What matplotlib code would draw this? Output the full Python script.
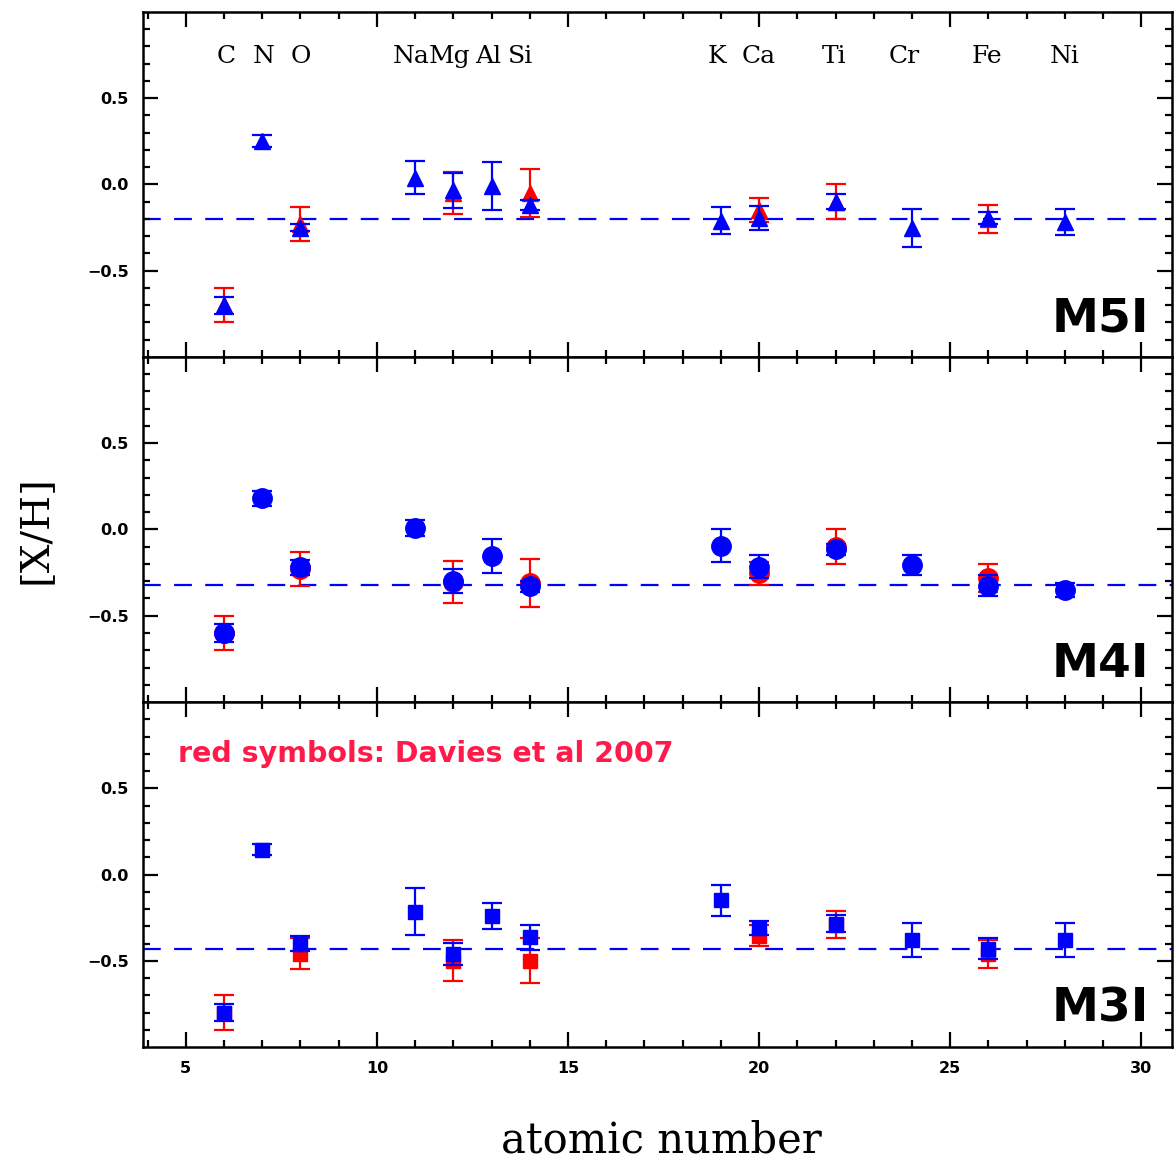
import numpy as np
import matplotlib.pyplot as plt

# atomic numbers and element symbols
z = [6, 7, 8, 11, 12, 13, 14, 19, 20, 22, 24, 26, 28]
elements = ['C', 'N', 'O', 'Na', 'Mg', 'Al', 'Si', 'K', 'Ca', 'Ti', 'Cr', 'Fe', 'Ni']

# Davies et al 2007 subset
z_red = [6, 8, 12, 14, 20, 22, 26]

# M5I
m5_blue = [-0.70, 0.25, -0.25, 0.04, -0.035, -0.01, -0.12, -0.21, -0.195, -0.10, -0.25, -0.195, -0.22]
m5_blue_err = [0.05, 0.035, 0.02, 0.095, 0.10, 0.14, 0.03, 0.08, 0.07, 0.045, 0.11, 0.037, 0.075]
m5_red = [-0.70, -0.23, -0.05, -0.05, -0.15, -0.10, -0.20]
m5_red_err = [0.10, 0.10, 0.12, 0.14, 0.07, 0.10, 0.08]
m5_mean = -0.20

# M4I
m4_blue = [-0.60, 0.18, -0.22, 0.01, -0.30, -0.155, -0.33, -0.095, -0.215, -0.115, -0.205, -0.325, -0.35]
m4_blue_err = [0.05, 0.045, 0.045, 0.045, 0.07, 0.10, 0.03, 0.095, 0.065, 0.03, 0.06, 0.06, 0.04]
m4_red = [-0.60, -0.23, -0.305, -0.31, -0.255, -0.10, -0.28]
m4_red_err = [0.10, 0.10, 0.12, 0.14, 0.067, 0.10, 0.08]
m4_mean = -0.32

# M3I
m3_blue = [-0.80, 0.145, -0.40, -0.215, -0.46, -0.24, -0.365, -0.15, -0.31, -0.285, -0.38, -0.43, -0.38]
m3_blue_err = [0.05, 0.03, 0.045, 0.135, 0.065, 0.075, 0.075, 0.09, 0.04, 0.05, 0.10, 0.06, 0.10]
m3_red = [-0.80, -0.46, -0.50, -0.50, -0.355, -0.29, -0.46]
m3_red_err = [0.10, 0.09, 0.12, 0.13, 0.06, 0.08, 0.08]
m3_mean = -0.43

panels = [
    ('M5I', '^', 11, m5_blue, m5_blue_err, m5_red, m5_red_err, m5_mean),
    ('M4I', 'o', 14, m4_blue, m4_blue_err, m4_red, m4_red_err, m4_mean),
    ('M3I', 's', 10, m3_blue, m3_blue_err, m3_red, m3_red_err, m3_mean),
]

# small horizontal nudges so the element labels sit like in the original
label_shift = [0.05, 0.05, 0.0, -0.1, -0.1, -0.1, -0.25, -0.1, 0.0, -0.05, -0.2, -0.05, 0.0]

fig = plt.figure(figsize=(11.75, 11.59), dpi=100)
left, width = 0.1217, 0.8757
height = 0.2977
bottom0 = 0.0966

for i, (name, mk, ms, bv, be, rv, re, mean) in enumerate(panels):
    ax = fig.add_axes([left, bottom0 + (2 - i) * height, width, height])
    ax.set_xlim(3.88, 30.8)
    ax.set_ylim(-1.0, 1.0)

    ax.errorbar(z_red, rv, yerr=re, fmt=mk, color='red', ms=ms, capsize=7,
                elinewidth=1.6, capthick=1.6, zorder=2)
    ax.errorbar(z, bv, yerr=be, fmt=mk, color='blue', ms=ms, capsize=7,
                elinewidth=1.6, capthick=1.6, zorder=3)
    ax.axhline(mean, color='blue', ls=(0, (8, 6)), lw=1.6, zorder=1)

    ax.text(28.92, -0.78, name, fontsize=34, fontweight='heavy', ha='center',
            va='center', family='DejaVu Sans')

    ax.set_xticks([5, 10, 15, 20, 25, 30])
    ax.set_xticks(np.arange(4, 31), minor=True)
    ax.set_yticks([-0.5, 0.0, 0.5])
    ax.set_yticks(np.arange(-0.9, 1.0, 0.1), minor=True)
    ax.set_yticklabels(['\u22120.5', '0.0', '0.5'])
    ax.tick_params(which='both', direction='in', top=True, right=True, width=1.6)
    ax.tick_params(which='major', length=11, labelsize=11.5, pad=10)
    ax.tick_params(which='minor', length=5)
    for lab in ax.get_yticklabels() + ax.get_xticklabels():
        lab.set_fontweight('bold')
    for sp in ax.spines.values():
        sp.set_linewidth(1.8)
    if i < 2:
        ax.tick_params(labelbottom=False)

    if i == 0:
        for zz, el, dx in zip(z, elements, label_shift):
            ax.text(zz + dx, 0.74, el, fontsize=18, ha='center', va='center',
                    family='DejaVu Serif')
    if i == 2:
        ax.text(4.8, 0.70, 'red symbols: Davies et al 2007', color='#ff1a4a',
                fontsize=20.5, fontweight='bold', ha='left', va='center')

fig.text(0.563, 0.006, 'atomic number', fontsize=30, ha='center', va='baseline',
         family='DejaVu Serif')
fig.text(0.03, 0.543, '[X/H]', fontsize=29, ha='center', va='center',
         rotation=90, family='DejaVu Serif')

fig.savefig('out.png', dpi=100)
